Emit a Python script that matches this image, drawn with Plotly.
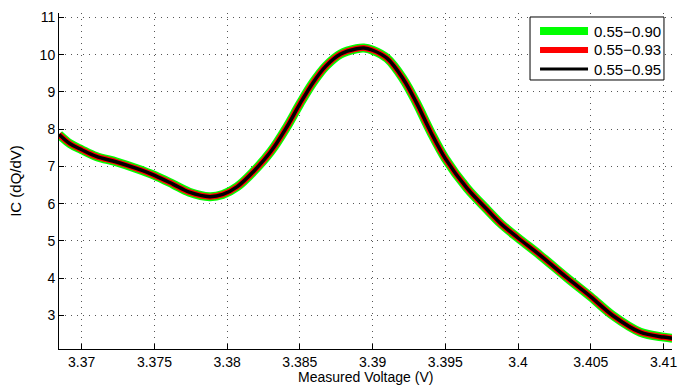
import plotly.graph_objects as go

# Measured voltage (V)
voltage = [3.36844, 3.3692, 3.3700, 3.3710, 3.3724, 3.3738, 3.3750, 3.3763, 3.3774,
           3.3788, 3.3797, 3.3807, 3.3818, 3.3830, 3.3841, 3.3850, 3.3859, 3.3868,
           3.3878, 3.3889, 3.3894, 3.3900, 3.3910, 3.3921, 3.3930, 3.3940, 3.3950,
           3.3965, 3.3979, 3.3988, 3.4000, 3.4015, 3.4034, 3.4050, 3.4065, 3.4084,
           3.4100, 3.4106]

# IC (dQ/dV) for each SOC window
ic_055_090 = [7.86, 7.61, 7.45, 7.27, 7.12, 6.94, 6.76, 6.52, 6.31,
              6.19, 6.25, 6.46, 6.86, 7.40, 8.06, 8.68, 9.25, 9.70,
              10.02, 10.16, 10.18, 10.12, 9.90, 9.35, 8.72, 7.92, 7.21,
              6.41, 5.83, 5.47, 5.08, 4.62, 4.00, 3.50, 3.00, 2.55,
              2.42, 2.39]
ic_055_093 = [7.86, 7.61, 7.45, 7.27, 7.12, 6.94, 6.76, 6.52, 6.31,
              6.19, 6.25, 6.46, 6.86, 7.40, 8.06, 8.68, 9.25, 9.70,
              10.02, 10.16, 10.18, 10.12, 9.90, 9.35, 8.72, 7.92, 7.21,
              6.41, 5.83, 5.47, 5.08, 4.62, 4.00, 3.50, 3.00, 2.55,
              2.42, 2.39]
ic_055_095 = [7.86, 7.61, 7.45, 7.27, 7.12, 6.94, 6.76, 6.52, 6.31,
              6.19, 6.25, 6.46, 6.86, 7.40, 8.06, 8.68, 9.25, 9.70,
              10.02, 10.16, 10.18, 10.12, 9.90, 9.35, 8.72, 7.92, 7.21,
              6.41, 5.83, 5.47, 5.08, 4.62, 4.00, 3.50, 3.00, 2.55,
              2.42, 2.39]

series_names = ["0.55\u22120.90", "0.55\u22120.93", "0.55\u22120.95"]
series_colors = ["#00ff00", "#ff0000", "#000000"]
series_widths = [9, 6, 3.5]
legend_widths = [8, 6, 3]
series_values = [ic_055_090, ic_055_093, ic_055_095]

x_tick_vals = [3.37, 3.375, 3.38, 3.385, 3.39, 3.395, 3.4, 3.405, 3.41]
x_tick_text = ["3.37", "3.375", "3.38", "3.385", "3.39", "3.395", "3.4", "3.405", "3.41"]
y_tick_vals = [3, 4, 5, 6, 7, 8, 9, 10, 11]
x_title = "Measured Voltage (V)"
y_title = "IC (dQ/dV)"

FONT = "Liberation Sans, Arial, Helvetica, sans-serif"

fig = go.Figure()
for name, color, width, vals in zip(series_names, series_colors, series_widths, series_values):
    fig.add_trace(go.Scatter(
        x=voltage, y=vals, mode="lines", name=name, showlegend=False,
        line=dict(color=color, width=width, shape="spline", smoothing=1.0),
    ))

axis_common = dict(
    showline=True, linecolor="black", linewidth=1, mirror=False,
    ticks="inside", ticklen=5, tickcolor="black", tickwidth=1,
    showgrid=True, gridcolor="#555555", gridwidth=1, griddash="1px,5px",
    zeroline=False, tickfont=dict(family=FONT, size=14, color="black"),
)

fig.update_xaxes(
    range=[3.36844, 3.41058], tickvals=x_tick_vals, ticktext=x_tick_text,
    ticklabelstandoff=0,
    **axis_common,
)
fig.update_yaxes(
    range=[2.10, 11.12], tickvals=y_tick_vals,
    title=dict(text=y_title, font=dict(family=FONT, size=15, color="black"), standoff=14),
    **axis_common,
)

# x-axis title placed just below the tick labels, kept inside the page
fig.add_annotation(xref="paper", yref="paper", x=0.5, y=-0.1101,
                   xanchor="center", yanchor="bottom", showarrow=False,
                   borderpad=0,
                   text=x_title, font=dict(family=FONT, size=14, color="black"))

# Legend box (MATLAB style, inside the axes at the upper right)
box_x0, box_x1, box_y0, box_y1 = 0.7684, 0.9869, 0.8006, 0.9881
row_y = [0.9464, 0.8899, 0.8333]
sw_x0, sw_x1, txt_x = 0.7847, 0.8630, 0.8695

fig.add_shape(type="rect", xref="paper", yref="paper",
              x0=box_x0, x1=box_x1, y0=box_y0, y1=box_y1,
              line=dict(color="black", width=1), fillcolor="white", layer="above")
for name, color, lw, ry in zip(series_names, series_colors, legend_widths, row_y):
    fig.add_shape(type="line", xref="paper", yref="paper",
                  x0=sw_x0, x1=sw_x1, y0=ry, y1=ry,
                  line=dict(color=color, width=lw), layer="above")
    fig.add_annotation(xref="paper", yref="paper", x=txt_x, y=ry,
                       xanchor="left", yanchor="middle", showarrow=False,
                       text=name, font=dict(family=FONT, size=15, color="black"))

fig.update_layout(
    width=694, height=386,
    margin=dict(l=59, r=22, t=13, b=37, autoexpand=False),
    paper_bgcolor="white", plot_bgcolor="white",
    font=dict(family=FONT, size=15, color="black"),
    showlegend=False,
)

fig.write_html("out.html")
